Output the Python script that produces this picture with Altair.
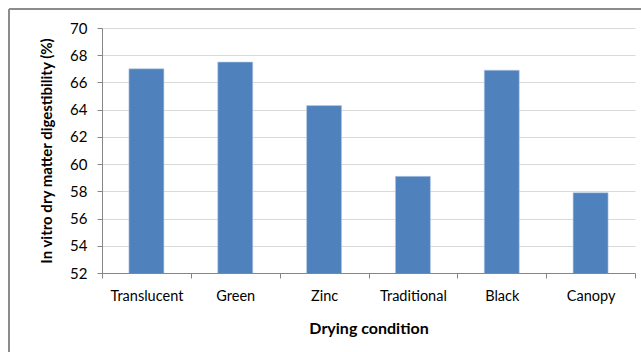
import altair as alt
import pandas as pd

categories = ["Translucent", "Green", "Zinc", "Traditional", "Black", "Canopy"]
values = [67.0, 67.5, 64.3, 59.1, 66.9, 57.9]

df = pd.DataFrame({"cond": categories, "ivdmd": values})

FONT = "Lato"

bars = alt.Chart(df).mark_bar(size=35, color="#4f81bd", stroke="#b9cde5", strokeWidth=0.6, clip=True).encode(
    x=alt.X("cond:N", sort=categories, title="Drying condition",
            scale=alt.Scale(paddingInner=0, paddingOuter=0),
            axis=alt.Axis(labelAngle=0, tickBand="extent", grid=False, domainColor="#868686",
                          tickColor="#868686", tickSize=5, labelPadding=11, labelFontSize=14.5,
                          labelColor="#000000", titleFontSize=16, titleFontWeight="bold",
                          titlePadding=18, titleColor="#000000", labelFont=FONT, titleFont=FONT)),
    y=alt.Y("ivdmd:Q", title="In vitro dry matter  digestibility (%)",
            scale=alt.Scale(domain=[52, 70], nice=False, zero=False),
            axis=alt.Axis(values=list(range(52, 71, 2)), gridColor="#d9d9d9", gridWidth=1.2,
                          domainColor="#868686", tickColor="#868686", tickSize=5,
                          labelFontSize=15, labelColor="#000000", labelPadding=10,
                          titleFontSize=15, titleFontWeight="bold", titlePadding=15,
                          titleColor="#000000", labelFont=FONT, titleFont=FONT)),
)

border_top = alt.Chart(df).mark_rule(color="#8c8c8c", strokeWidth=1.5, clip=False).encode(
    x=alt.value(-93), x2=alt.value(545), y=alt.value(-19))
border_left = alt.Chart(df).mark_rule(color="#8c8c8c", strokeWidth=1.5, clip=False).encode(
    x=alt.value(-93), y=alt.value(-19), y2=alt.value(330))

chart = alt.layer(bars, border_top, border_left).properties(
    width=533, height=245,
    autosize=alt.AutoSizeParams(type="none"),
    padding={"left": 102, "top": 28, "right": 6, "bottom": 79},
    background="white",
).configure_view(stroke=None)

chart.save("out.html", embed_options={"renderer": "svg", "actions": False})
